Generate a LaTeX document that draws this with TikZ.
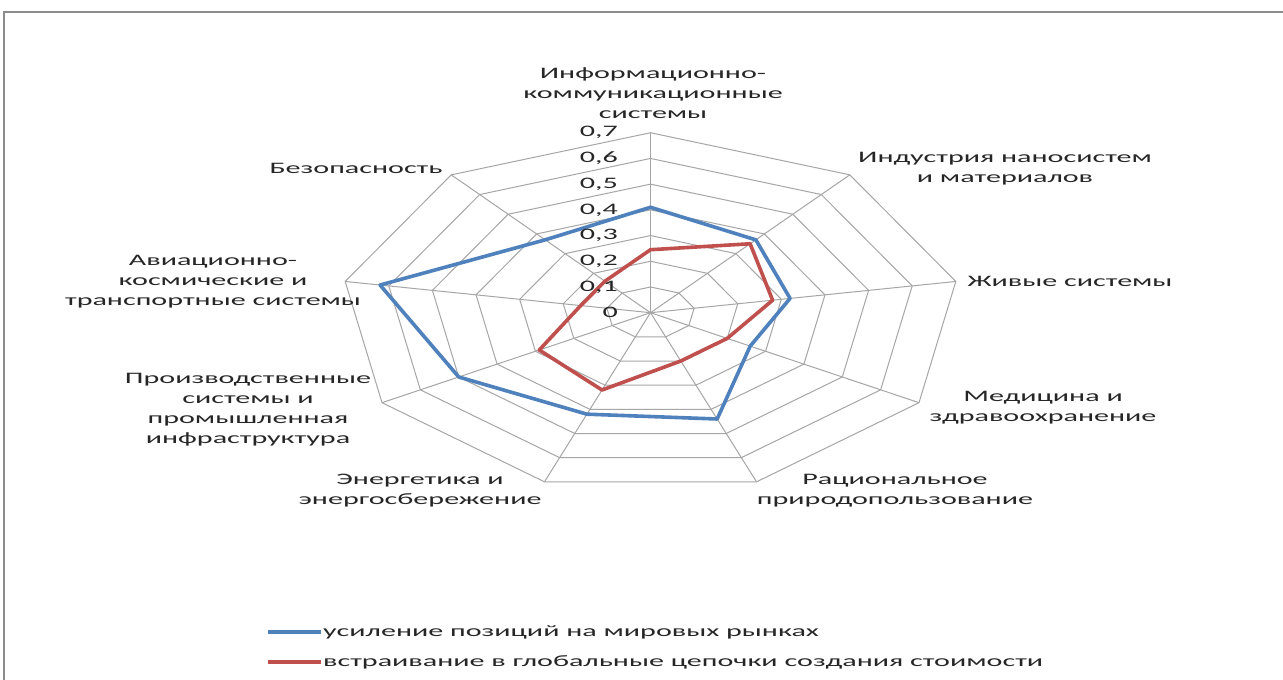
\documentclass[tikz,border=0pt]{standalone}
\usepackage{fontspec}
\setmainfont[FakeStretch=1.88]{Carlito}
\definecolor{serblue}{HTML}{4F81BD}
\definecolor{serred}{HTML}{C0504D}
\definecolor{gridgray}{HTML}{A6A6A6}
\definecolor{framegray}{HTML}{8C8C8C}
\begin{document}
\begin{tikzpicture}[x=1pt,y=-1pt,
  gridline/.style={draw=gridgray,line width=1pt},
  series/.style={line width=3.6pt,line join=round},
  catlabel/.style={align=center,font=\fontsize{16}{20}\selectfont,text=black!85,inner sep=0pt},
  ticklabel/.style={anchor=east,font=\fontsize{16}{20}\selectfont,text=black!85,inner sep=0pt},
  legtext/.style={anchor=west,font=\fontsize{16}{20}\selectfont,text=black!85,inner sep=0pt}]
\useasboundingbox (0,0) rectangle (1283,680);
\fill[white] (0,0) rectangle (1283,680);
\draw[framegray,line width=1.2pt] (4,680) -- (4,12) -- (1283,12);
\begin{scope}[shift={(650.5,312.7)},x=442.9pt,y=257.1pt]
  \coordinate (C) at (0,0);
  \foreach \i in {1,...,7}{
    \pgfmathsetmacro{\r}{\i/10}
    \draw[gridline] (90:\r) -- (50:\r) -- (10:\r) -- (-30:\r) -- (-70:\r) -- (-110:\r) -- (-150:\r) -- (-190:\r) -- (-230:\r) -- cycle;
  }
  \foreach \k in {0,...,8}{
    \pgfmathsetmacro{\a}{90-40*\k}
    \coordinate (ax\k) at (\a:0.7);
    \draw[gridline] (C) -- (ax\k);
  }
  \draw[series,serblue] (90:0.41) -- (50:0.37) -- (10:0.32) -- (-30:0.26) -- (-70:0.44) -- (-110:0.42) -- (-150:0.50) -- (-190:0.62) -- (-230:0.37) -- cycle;
  \draw[series,serred] (90:0.245) -- (50:0.35) -- (10:0.28) -- (-30:0.20) -- (-70:0.20) -- (-110:0.32) -- (-150:0.29) -- (-190:0.16) -- (-230:0.16) -- cycle;
\end{scope}
% tick labels
\foreach \i in {0,...,7}{
  \node[ticklabel] (t\i) at (618,{312.7-25.7*\i}) {\ifnum\i=0 0\else 0,\i\fi};
}
% category labels
\node[catlabel] (l0) at (653,93) {Информационно-\\коммуникационные\\системы};
\node[catlabel] (l1) at (1005,169) {Индустрия наносистем\\и материалов};
\node[catlabel] (l2) at (1070,281) {Живые системы};
\node[catlabel] (l3) at (1043,408) {Медицина и\\здравоохранение};
\node[catlabel] (l4) at (895,491) {Рациональное\\природопользование};
\node[catlabel] (l5) at (420,491) {Энергетика и\\энергосбережение};
\node[catlabel] (l6) at (248,410) {Производственные\\системы и\\промышленная\\инфраструктура};
\node[catlabel] (l7) at (213,282) {Авиационно-\\космические и\\транспортные системы};
\node[catlabel] (l8) at (356,168) {Безопасность};
% legend
\coordinate (lb1) at (268,632);
\coordinate (lb2) at (321,632);
\coordinate (lr1) at (268,662);
\coordinate (lr2) at (321,662);
\draw[serblue,line width=3.6pt] (lb1) -- (lb2);
\draw[serred,line width=3.6pt] (lr1) -- (lr2);
\node[legtext] (leg1) at (323,632) {усиление позиций на мировых рынках};
\node[legtext] (leg2) at (323,662) {встраивание в глобальные цепочки создания стоимости};
\end{tikzpicture}
\end{document}
